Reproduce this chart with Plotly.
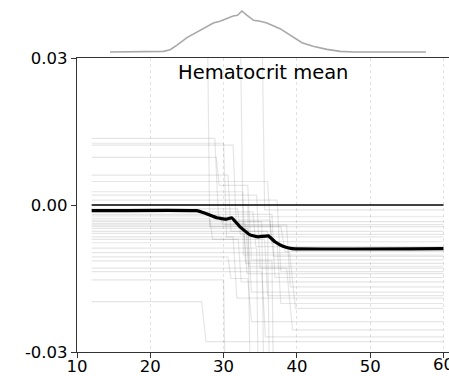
import plotly.graph_objects as go

# ---- data ----
X_TICKS = [10, 20, 30, 40, 50, 60]
X_TICK_TEXT = ["10", "20", "30", "40", "50", ""]
EDGE_LABEL_X = [60]
EDGE_LABEL_TEXT = ["60"]
Y_TICKS = [-0.03, 0.0, 0.03]
Y_TICK_TEXT = ["-0.03", "0.00", "0.03"]
TITLE = "Hematocrit mean"

DENS_X = [14.5, 21.8, 22.7, 23.6, 25.0, 26.8, 28.6, 29.5, 30.4, 31.3, 31.9, 32.5,
          33.2, 34.1, 35.0, 35.9, 37.7, 39.1, 40.7, 42.2, 44.1, 45.9, 47.7, 57.6]
DENS_Y = [0.0, 0.016, 0.057, 0.163, 0.35, 0.53, 0.707, 0.748, 0.813, 0.878, 0.894, 1.0,
          0.894, 0.772, 0.748, 0.707, 0.569, 0.407, 0.228, 0.138, 0.065, 0.016, 0.0, 0.0]

PDP_X = [12, 26.3, 27.5, 29.05, 30.4, 31.1, 32.2, 33.6, 34.7, 36.1, 37.0, 38.1, 39.3, 60]
PDP_Y = [-0.00116, -0.00116, -0.0017, -0.0026, -0.0029, -0.0026, -0.0044, -0.0061,
         -0.0065, -0.0063, -0.0075, -0.0084, -0.0089, -0.0089]

ZERO_X = [12, 60]
ZERO_Y = [0.0, 0.0]

ICE_X = [
    [12, 27.7, 28.1, 60], [12, 32.2, 32.7, 60], [12, 35.2, 35.6, 60],
    [12, 28.8, 29.3, 60], [12, 30.0, 30.4, 60], [12, 31.3, 31.7, 60],
    [12, 29.0, 29.4, 33.3, 33.8, 60], [12, 30.6, 31.0, 60], [12, 36.0, 36.5, 60],
    [12, 32.6, 33.0, 60], [12, 34.5, 35.0, 60], [12, 37.3, 37.8, 60],
    [12, 33.3, 33.6, 60], [12, 36.6, 37.0, 60], [12, 28.1, 28.5, 32.0, 32.4, 60],
    [12, 35.2, 35.5, 60], [12, 38.6, 39.1, 60], [12, 33.3, 33.8, 60],
    [12, 36.0, 36.3, 60], [12, 31.3, 31.8, 60], [12, 37.3, 37.8, 60],
    [12, 34.5, 34.8, 60], [12, 39.0, 39.8, 60], [12, 30.6, 31.0, 33.3, 33.8, 60],
    [12, 36.6, 36.9, 60], [12, 38.6, 39.4, 60], [12, 35.2, 35.7, 60],
    [12, 30.0, 30.4, 60], [12, 27.0, 27.6, 60],
    [12, 31.9, 32.3, 60], [12, 34.0, 34.4, 60], [12, 29.5, 29.9, 60],
    [12, 36.3, 36.8, 60], [12, 33.0, 33.4, 60], [12, 37.8, 38.4, 60],
    [12, 32.8, 33.2, 60], [12, 35.6, 36.0, 60],
]
ICE_Y = [
    [0.050, 0.050, -0.0044, -0.0044], [0.045, 0.045, -0.0102, -0.0102], [0.040, 0.040, -0.0010, -0.0010],
    [0.0136, 0.0136, -0.0024, -0.0024], [0.0126, 0.0126, -0.0065, -0.0065], [0.0122, 0.0122, -0.0034, -0.0034],
    [0.0097, 0.0097, 0.0040, 0.0040, -0.0112, -0.0112], [0.0061, 0.0061, -0.0054, -0.0054], [0.0048, 0.0048, -0.0075, -0.0075],
    [0.0027, 0.0027, -0.0119, -0.0119], [0.0020, 0.0020, -0.0129, -0.0129], [0.0010, 0.0010, -0.0136, -0.0136],
    [0.0000, 0.0000, -0.034, -0.034], [-0.0019, -0.0019, -0.0148, -0.0148], [-0.0027, -0.0027, -0.0070, -0.0070, -0.0157, -0.0157],
    [-0.0034, -0.0034, -0.038, -0.038], [-0.0041, -0.0041, -0.0167, -0.0167], [-0.0048, -0.0048, -0.0178, -0.0178],
    [-0.0054, -0.0054, -0.042, -0.042], [-0.0065, -0.0065, -0.0190, -0.0190], [-0.0077, -0.0077, -0.0201, -0.0201],
    [-0.0088, -0.0088, -0.046, -0.046], [-0.0097, -0.0097, -0.0211, -0.0211], [-0.0106, -0.0106, -0.0150, -0.0150, -0.0238, -0.0238],
    [-0.0114, -0.0114, -0.050, -0.050], [-0.0129, -0.0129, -0.0255, -0.0255], [-0.0136, -0.0136, -0.0269, -0.0269],
    [-0.0153, -0.0153, -0.055, -0.055], [-0.0197, -0.0197, -0.0279, -0.0279],
    [-0.0008, -0.0008, -0.0060, -0.0060], [-0.0014, -0.0014, -0.0085, -0.0085], [-0.0022, -0.0022, -0.0040, -0.0040],
    [-0.0031, -0.0031, -0.0105, -0.0105], [-0.0038, -0.0038, -0.0125, -0.0125], [-0.0044, -0.0044, -0.0095, -0.0095],
    [-0.0058, -0.0058, -0.0140, -0.0140], [-0.0070, -0.0070, -0.0185, -0.0185],
]

FONT = "DejaVu Sans"
TICK_SIZE = 16.5

fig = go.Figure()

for xs, ys in zip(ICE_X, ICE_Y):
    fig.add_trace(go.Scatter(x=xs, y=ys, mode="lines",
                             line=dict(color="rgba(0,0,0,0.10)", width=1.2),
                             hoverinfo="skip", showlegend=False))

fig.add_trace(go.Scatter(x=ZERO_X, y=ZERO_Y, mode="lines",
                         line=dict(color="black", width=1.6), showlegend=False))
fig.add_trace(go.Scatter(x=PDP_X, y=PDP_Y, mode="lines",
                         line=dict(color="black", width=3.2, shape="spline", smoothing=0.3),
                         showlegend=False))

fig.add_trace(go.Scatter(x=DENS_X, y=DENS_Y, mode="lines", xaxis="x2", yaxis="y2",
                         line=dict(color="#a8a8a8", width=1.6), showlegend=False))

# last x tick label, clipped at the window edge like the reference
fig.add_trace(go.Scatter(x=EDGE_LABEL_X, y=[0.42], mode="text", text=EDGE_LABEL_TEXT,
                         textposition="middle center", cliponaxis=True,
                         textfont=dict(family=FONT, size=TICK_SIZE, color="black"),
                         xaxis="x3", yaxis="y3", hoverinfo="skip", showlegend=False))

H = 376
XR = [10, 60.75]

fig.update_layout(
    width=449, height=H,
    margin=dict(l=77, r=0, t=0, b=0, autoexpand=False),
    paper_bgcolor="white", plot_bgcolor="white",
    font=dict(family=FONT, size=16, color="black"),
    showlegend=False,
    xaxis=dict(range=XR, tickvals=X_TICKS, ticktext=X_TICK_TEXT, ticks="outside", ticklen=5,
               tickcolor="#333", showline=True, linecolor="#333", linewidth=1.2,
               mirror=True, showgrid=True, gridcolor="#e2e2e2", griddash="dot",
               gridwidth=1, zeroline=False, tickfont=dict(size=TICK_SIZE),
               ticklabelstandoff=-6,
               automargin=False, domain=[0, 1], anchor="y"),
    yaxis=dict(range=[-0.03, 0.03], tickvals=Y_TICKS, ticktext=Y_TICK_TEXT,
               ticks="outside", ticklen=5, tickcolor="#333", showline=True,
               linecolor="#333", linewidth=1.2, showgrid=False, zeroline=False,
               tickfont=dict(size=TICK_SIZE), automargin=False,
               domain=[(H - 352) / H, (H - 58) / H], anchor="x"),
    xaxis2=dict(range=XR, visible=False, anchor="y2", domain=[0, 1], automargin=False),
    yaxis2=dict(range=[-0.073, 1.268], visible=False, domain=[(H - 55) / H, 1],
                anchor="x2", automargin=False),
    xaxis3=dict(range=XR, visible=False, anchor="y3", domain=[0, 1], automargin=False),
    yaxis3=dict(range=[0, 1], visible=False, domain=[0, (H - 353) / H], anchor="x3",
                automargin=False),
    annotations=[dict(text=TITLE, x=0.5, xref="x domain", y=0.0271, yref="y",
                      showarrow=False, font=dict(size=19.5, family=FONT, color="black"),
                      xanchor="center", yanchor="middle")],
)

fig.write_html("out.html")
